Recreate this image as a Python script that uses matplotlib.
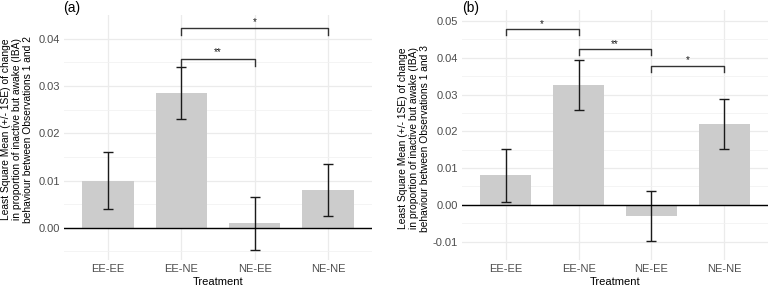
import numpy as np
import matplotlib.pyplot as plt

plt.rcParams['font.family'] = ['Liberation Sans', 'DejaVu Sans']

# data
treatments = ['EE-EE', 'EE-NE', 'NE-EE', 'NE-NE']
lsm_a = [0.0100, 0.0286, 0.0010, 0.0079]
se_a = [0.0060, 0.0055, 0.0056, 0.0055]
lsm_b = [0.0080, 0.0327, -0.0030, 0.0220]
se_b = [0.0073, 0.0068, 0.0068, 0.0068]

# significance brackets: (from, to, y, label)
brackets_a = [(1, 2, 0.0358, '**'), (1, 3, 0.0422, '*')]
brackets_b = [(0, 1, 0.0477, '*'), (1, 2, 0.0423, '**'), (2, 3, 0.0377, '*')]

ylab_a = ("Least Square Mean (+/- 1SE) of change\n"
          "in proportion of inactive but awake (IBA)\n"
          "behaviour between Observations 1 and 2")
ylab_b = ("Least Square Mean (+/- 1SE) of change\n"
          "in proportion of inactive but awake (IBA)\n"
          "behaviour between Observations 1 and 3")

W, H = 769, 287
fig = plt.figure(figsize=(W / 100, H / 100), dpi=100)


def px_axes(l, t, r, b):
    return fig.add_axes([l / W, 1 - b / H, (r - l) / W, (b - t) / H])


def draw_panel(ax, vals, errs, brackets, ylim, yticks):
    x = np.arange(len(treatments))
    ax.set_axisbelow(True)
    ax.bar(x, vals, width=0.7, color='#cccccc', zorder=2)
    ax.errorbar(x, vals, yerr=errs, fmt='none', ecolor='#1a1a1a',
                elinewidth=1.0, capsize=3.3, capthick=1.0, zorder=3)
    ax.axhline(0, color='black', lw=1.0, zorder=4)
    for i, j, y, lab in brackets:
        d = 0.0015
        ax.plot([i, i, j, j], [y - d, y, y, y - d], color='#333333', lw=1.0,
                zorder=4)
        ax.text((i + j) / 2, y + 0.0002, lab, ha='center', va='bottom',
                fontsize=7, color='#1a1a1a')
    ax.set_xlim(-0.6, 3.6)
    ax.set_ylim(*ylim)
    ax.set_xticks(x)
    ax.set_xticklabels(treatments)
    ax.set_yticks(yticks)
    ax.set_yticklabels([f'{t:.2f}' for t in yticks])
    minor = np.arange(yticks[0] - 0.005, ylim[1], 0.01)
    ax.set_yticks(minor, minor=True)
    ax.grid(True, which='major', color='#ebebeb', lw=0.9)
    ax.grid(True, which='minor', axis='y', color='#f2f2f2', lw=0.6)
    ax.tick_params(which='both', length=0, labelsize=8, labelcolor='#4d4d4d',
                   pad=3)
    for s in ax.spines.values():
        s.set_visible(False)
    ax.set_xlabel('Treatment', fontsize=8, labelpad=2, color='black')


ax_a = px_axes(64, 15, 372, 260)
draw_panel(ax_a, lsm_a, se_a, brackets_a, (-0.0068, 0.0450),
           [0.00, 0.01, 0.02, 0.03, 0.04])
ax_b = px_axes(462, 10, 768, 260)
draw_panel(ax_b, lsm_b, se_b, brackets_b, (-0.0129, 0.0530),
           [-0.01, 0.00, 0.01, 0.02, 0.03, 0.04, 0.05])

fig.text(63 / W, 1 - 1 / H, '(a)', fontsize=10, ha='left', va='top')
fig.text(462 / W, 1 - 1 / H, '(b)', fontsize=10, ha='left', va='top')

fig.text(17 / W, 1 - 129 / H, ylab_a, rotation=90, ha='center', va='center',
         fontsize=7.4, multialignment='center', linespacing=1.1)
fig.text(414 / W, 1 - 138 / H, ylab_b, rotation=90, ha='center', va='center',
         fontsize=7.4, multialignment='center', linespacing=1.1)

fig.savefig('out.png', dpi=100)
